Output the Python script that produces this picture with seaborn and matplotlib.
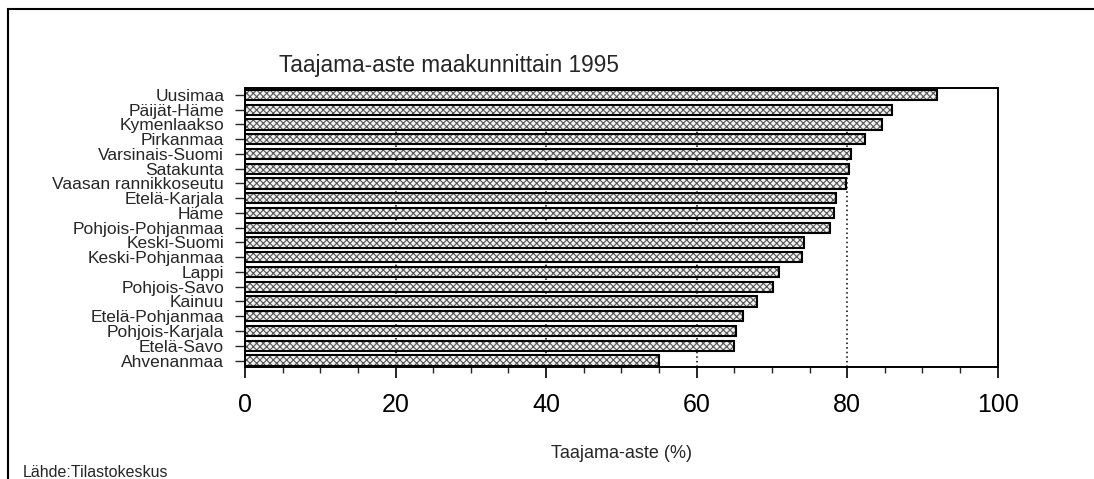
import matplotlib
matplotlib.use("Agg")
import matplotlib.pyplot as plt
import matplotlib.patches as mpatches
from matplotlib.ticker import MultipleLocator
import seaborn as sns
import pandas as pd

regions = ["Uusimaa", "Päijät-Häme", "Kymenlaakso", "Pirkanmaa", "Varsinais-Suomi",
           "Satakunta", "Vaasan rannikkoseutu", "Etelä-Karjala", "Häme",
           "Pohjois-Pohjanmaa", "Keski-Suomi", "Keski-Pohjanmaa", "Lappi",
           "Pohjois-Savo", "Kainuu", "Etelä-Pohjanmaa", "Pohjois-Karjala",
           "Etelä-Savo", "Ahvenanmaa"]
values = [91.9, 86.0, 84.6, 82.4, 80.5, 80.3, 79.8, 78.5, 78.2, 77.7,
          74.2, 74.0, 71.0, 70.1, 68.0, 66.2, 65.2, 65.0, 55.0]
x_ticks = [0, 20, 40, 60, 80, 100]

title = "Taajama-aste maakunnittain 1995"
xlabel = "Taajama-aste (%)"
source = "Lähde:Tilastokeskus"

sns.set_style("ticks")
plt.rcParams["font.family"] = ["Liberation Sans", "DejaVu Sans"]
plt.rcParams["hatch.linewidth"] = 0.8

df = pd.DataFrame({"region": regions, "value": values})

fig = plt.figure(figsize=(10.94, 4.79), dpi=100)
ax = fig.add_axes([245 / 1094, 1 - 366.7 / 479, (997.7 - 245) / 1094, (366.7 - 88) / 479])

# hatched fill layer
sns.barplot(data=df, x="value", y="region", orient="h", ax=ax,
            color="#f2f2f2", width=0.7, linewidth=0, edgecolor="#555555",
            hatch="xxxxx", zorder=2)
# outline layer
sns.barplot(data=df, x="value", y="region", orient="h", ax=ax,
            fill=False, width=0.7, linewidth=1.5, edgecolor="black",
            zorder=3)

ax.set_xlim(0, 100)
ax.set_ylim(18.42, -0.47)
ax.set_xticks(x_ticks)
ax.set_xticklabels([str(t) for t in x_ticks], fontsize=18)
ax.xaxis.set_minor_locator(MultipleLocator(5))
ax.tick_params(axis="x", which="major", direction="out", length=8, width=1.2, pad=11, colors="black")
ax.tick_params(axis="x", which="minor", direction="out", length=4, width=1)
ax.tick_params(axis="y", which="major", direction="out", length=7, width=1, pad=8, labelsize=12.5)
ax.set_ylabel("")
ax.set_xlabel(xlabel, fontsize=13, labelpad=20)

for v in [20, 40, 60, 80]:
    ax.axvline(v, color="black", linestyle=(0, (1, 2)), linewidth=1.1, zorder=1)

for sp in ax.spines.values():
    sp.set_visible(True)
    sp.set_color("black")
    sp.set_linewidth(1.4)

fig.text(279 / 1094, 1 - 72 / 479, title, fontsize=16.3, ha="left", va="baseline")
fig.text(23 / 1094, 1 - 477 / 479, source, fontsize=11.5, ha="left", va="baseline")

frame = mpatches.Rectangle((8 / 1094, -0.1), 1.2, 1.1 - 9 / 479, transform=fig.transFigure,
                           fill=False, edgecolor="black", linewidth=1.5, clip_on=False)
fig.patches.append(frame)

fig.savefig("out.png", dpi=100)
